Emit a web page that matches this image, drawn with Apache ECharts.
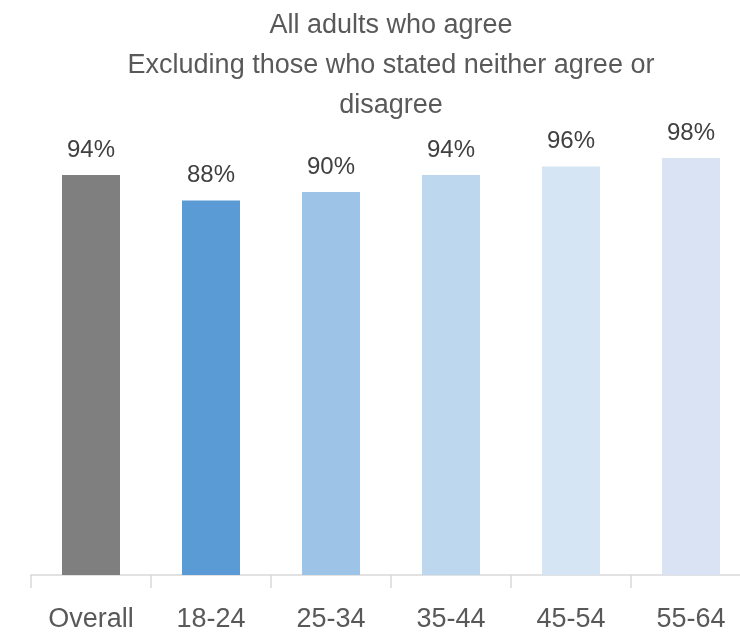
<!DOCTYPE html>
<html>
<head>
<meta charset="utf-8">
<script src="https://cdn.jsdelivr.net/npm/echarts@6/dist/echarts.min.js"></script>
<style>html,body{margin:0;padding:0;background:#fff;overflow:hidden}#c{width:760px;height:633px}</style>
</head>
<body>
<div id="c"></div>
<script>
const categories = ['Overall', '18-24', '25-34', '35-44', '45-54', '55-64'];
const values = [94, 88, 90, 94, 96, 98];
const titleLines = ['All adults who agree', 'Excluding those who stated neither agree or', 'disagree'];

const palette = ['#7f7f7f', '#5b9bd5', '#9dc3e6', '#bdd7ee', '#d5e5f4', '#dae3f3'];
const font = 'Liberation Sans';

const chart = echarts.init(document.getElementById('c'));
chart.setOption({
  animation: false,
  title: {
    text: titleLines.join('\n'),
    left: 391,
    top: 6,
    padding: 0,
    textAlign: 'center',
    textStyle: { fontFamily: font, fontSize: 27, fontWeight: 'normal', color: '#595959', lineHeight: 40 }
  },
  grid: { left: 31, top: 149.5, width: 720, height: 425.5, containLabel: false },
  xAxis: {
    type: 'category',
    data: categories,
    axisLine: { lineStyle: { color: '#d9d9d9', width: 1.5 } },
    axisTick: { show: true, length: 13, lineStyle: { color: '#d9d9d9', width: 1.5 } },
    axisLabel: { margin: 31, fontFamily: font, fontSize: 27, color: '#595959' }
  },
  yAxis: { type: 'value', min: 0, max: 100, show: false, splitLine: { show: false } },
  series: [{
    type: 'bar',
    barWidth: 58,
    data: values.map((v, i) => ({ value: v, itemStyle: { color: palette[i] } })),
    label: {
      show: true, position: 'top', distance: 13,
      formatter: p => p.value + '%',
      fontFamily: font, fontSize: 24, color: '#404040'
    }
  }]
});
</script>
</body>
</html>
